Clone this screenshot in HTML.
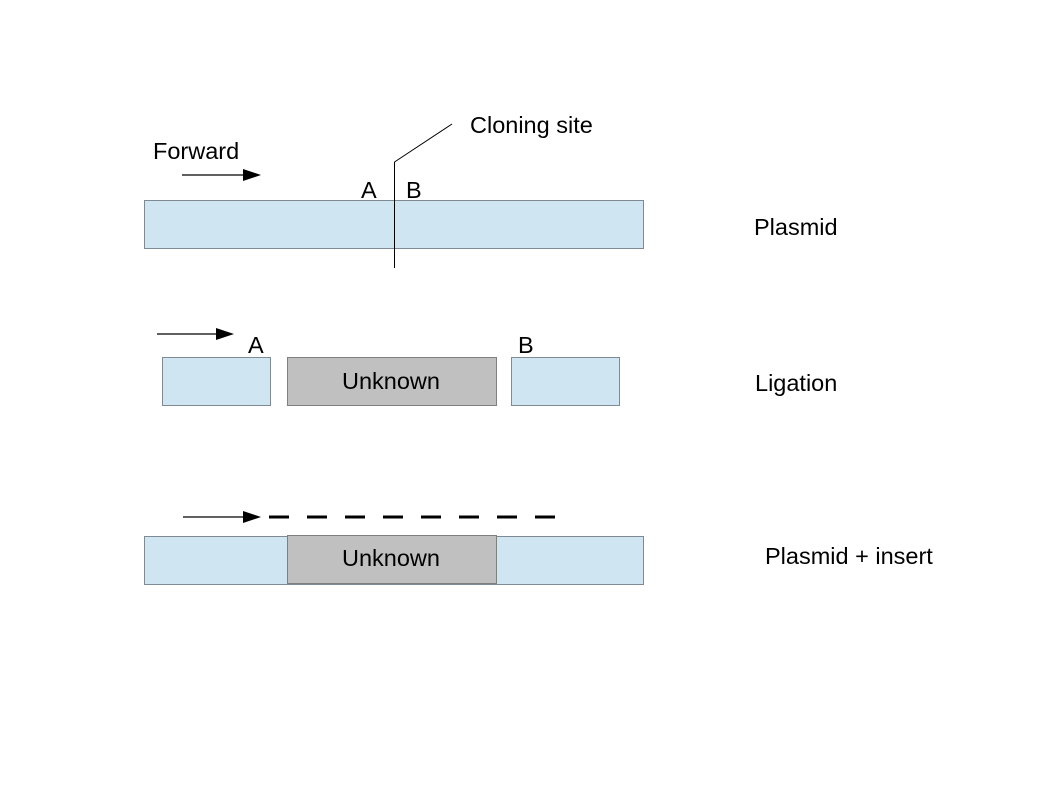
<!DOCTYPE html>
<html><head><style>body{margin:0;background:#fff}</style></head><body>
<svg width="1058" height="794" xmlns="http://www.w3.org/2000/svg" font-family="Liberation Sans, sans-serif" font-size="23.5" fill="#000">
<rect x="144.5" y="200.5" width="499" height="48" fill="#cfe5f1" stroke="#7f8a95"/>
<line x1="394.5" y1="162" x2="394.5" y2="268" stroke="#000"/>
<line x1="394.5" y1="162" x2="452" y2="124" stroke="#000"/>
<text x="470" y="133">Cloning site</text>
<text x="153" y="159">Forward</text>
<text x="361" y="198">A</text>
<text x="406" y="198">B</text>
<text x="754" y="235">Plasmid</text>
<line x1="182" y1="175" x2="245" y2="175" stroke="#000" stroke-width="1.2"/>
<polygon points="243,169 261,175 243,181" fill="#000"/>

<rect x="162.5" y="357.5" width="108" height="48" fill="#cfe5f1" stroke="#7f8a95"/>
<rect x="287.5" y="357.5" width="209" height="48" fill="#c0c0c0" stroke="#7f7f7f"/>
<rect x="511.5" y="357.5" width="108" height="48" fill="#cfe5f1" stroke="#7f8a95"/>
<text x="391" y="389" text-anchor="middle">Unknown</text>
<text x="248" y="353">A</text>
<text x="518" y="353">B</text>
<text x="755" y="391">Ligation</text>
<line x1="157" y1="334" x2="218" y2="334" stroke="#000" stroke-width="1.2"/>
<polygon points="216,328 234,334 216,340" fill="#000"/>

<rect x="144.5" y="536.5" width="499" height="48" fill="#cfe5f1" stroke="#7f8a95"/>
<rect x="287.5" y="535.5" width="209" height="48" fill="#c0c0c0" stroke="#7f7f7f"/>
<text x="391" y="566" text-anchor="middle">Unknown</text>
<text x="765" y="564">Plasmid + insert</text>
<line x1="183" y1="517" x2="245" y2="517" stroke="#000" stroke-width="1.2"/>
<polygon points="243,511 261,517 243,523" fill="#000"/>
<line x1="269" y1="517" x2="557" y2="517" stroke="#000" stroke-width="3" stroke-dasharray="20 18"/>
</svg>
</body></html>
